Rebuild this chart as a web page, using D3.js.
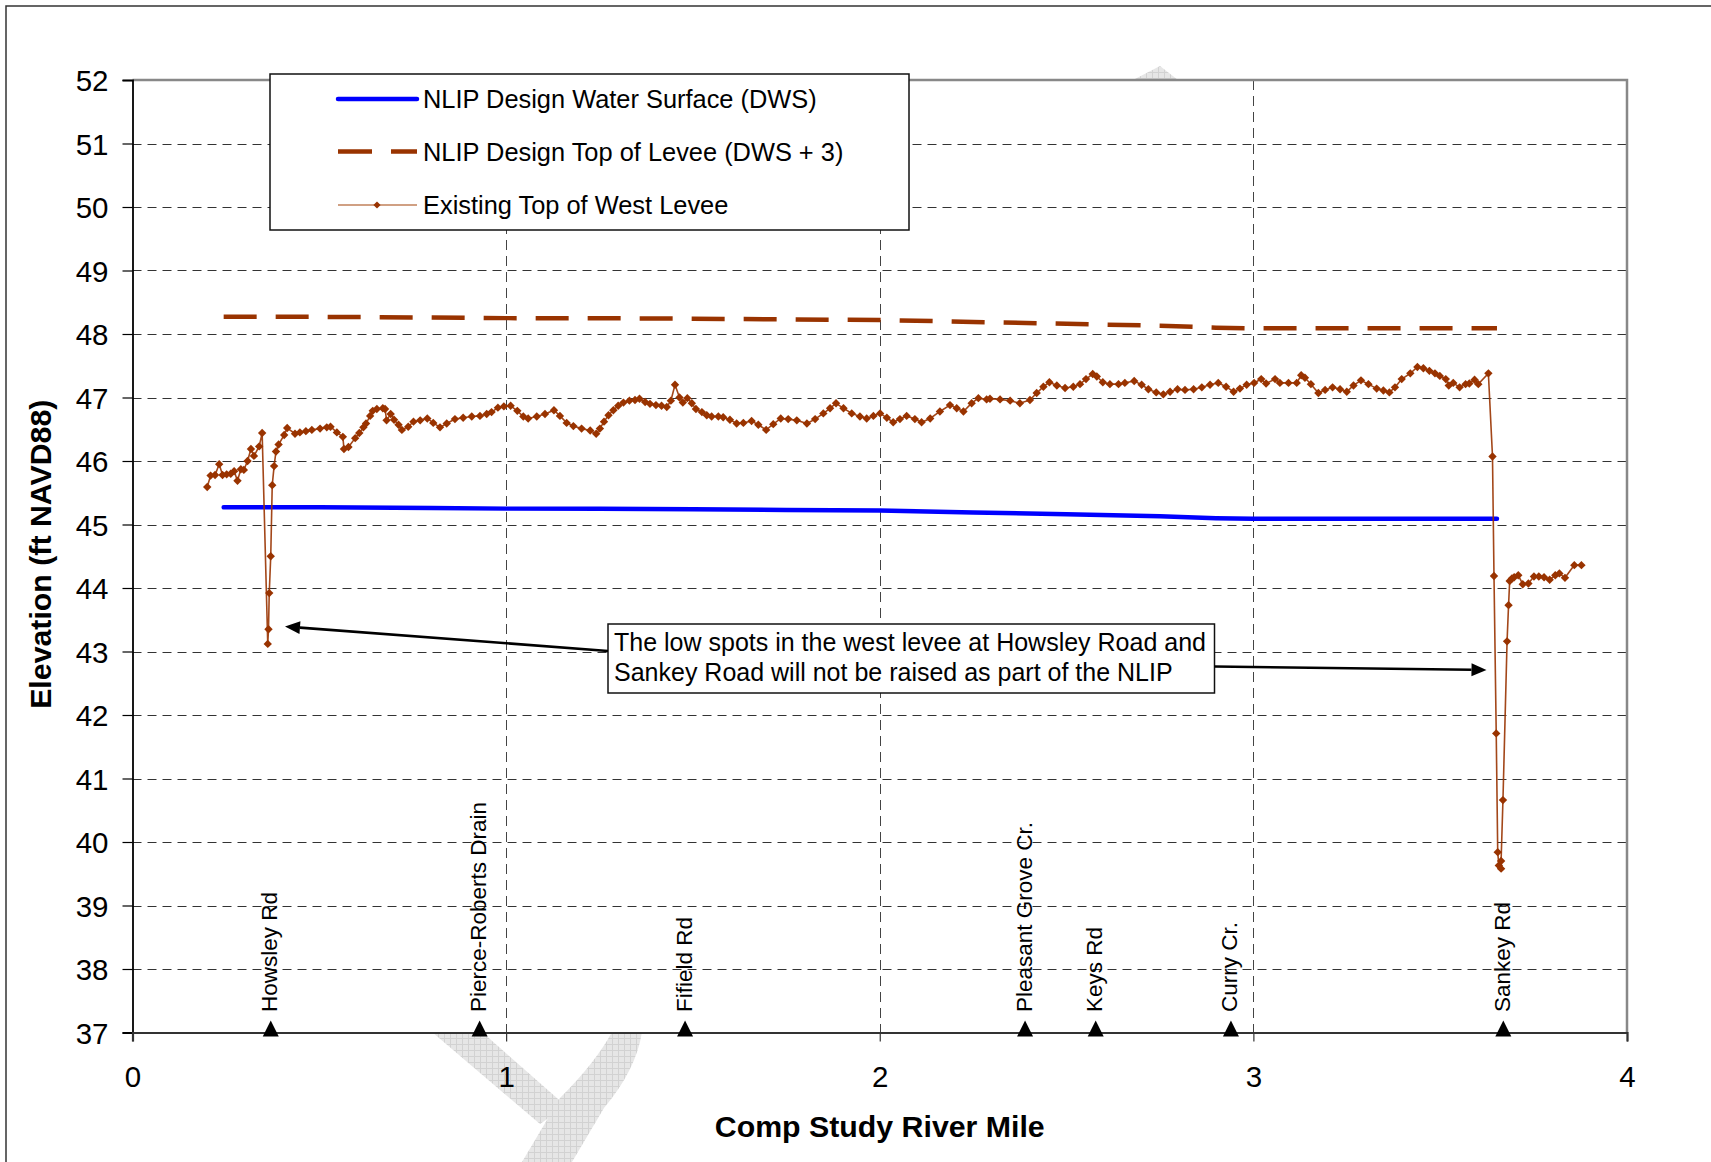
<!DOCTYPE html>
<html>
<head>
<meta charset="utf-8">
<script src="https://cdn.jsdelivr.net/npm/d3@7"></script>
<style>
  html, body { margin: 0; padding: 0; background: #ffffff; }
  svg { display: block; }
  text { font-family: "Liberation Sans", Arial, sans-serif; fill: #000; }
</style>
</head>
<body>
<svg id="chart" width="1711" height="1162"></svg>
<script>
// ---------------- DATA ----------------
const yTickValues = [37, 38, 39, 40, 41, 42, 43, 44, 45, 46, 47, 48, 49, 50, 51, 52];
const xTickValues = [0, 1, 2, 3, 4];

const designMiles = [0.244, 0.5, 0.8, 1.0, 1.25, 1.5, 1.75, 2.0, 2.25, 2.5, 2.75, 2.9, 3.0, 3.25, 3.5, 3.652];
const dwsValues   = [45.27, 45.27, 45.26, 45.25, 45.25, 45.24, 45.23, 45.22, 45.19, 45.16, 45.13, 45.10, 45.09, 45.09, 45.09, 45.09];
const topOfLeveeValues = [48.27, 48.27, 48.26, 48.25, 48.25, 48.24, 48.23, 48.22, 48.19, 48.16, 48.13, 48.10, 48.09, 48.09, 48.09, 48.09];

const existingMiles = [
  0.200, 0.209, 0.221, 0.232, 0.241, 0.252, 0.263, 0.272, 0.281, 0.290, 0.298, 0.308, 0.317, 0.325, 0.339, 0.347,
  0.362, 0.364, 0.366, 0.370, 0.374, 0.379, 0.384, 0.391, 0.406, 0.414, 0.435, 0.448, 0.464, 0.480, 0.502, 0.520,
  0.530, 0.547, 0.563, 0.566, 0.578, 0.596, 0.607, 0.618, 0.625, 0.636, 0.643, 0.654, 0.670, 0.676, 0.680, 0.691,
  0.700, 0.712, 0.721, 0.738, 0.752, 0.770, 0.789, 0.805, 0.823, 0.841, 0.863, 0.885, 0.908, 0.930, 0.948, 0.961,
  0.978, 0.994, 1.012, 1.030, 1.046, 1.059, 1.082, 1.104, 1.128, 1.144, 1.162, 1.180, 1.202, 1.225, 1.241, 1.251,
  1.262, 1.274, 1.287, 1.300, 1.314, 1.330, 1.345, 1.357, 1.372, 1.385, 1.401, 1.416, 1.430, 1.441, 1.452, 1.464,
  1.473, 1.485, 1.497, 1.508, 1.524, 1.537, 1.550, 1.568, 1.581, 1.599, 1.617, 1.635, 1.657, 1.675, 1.696, 1.715,
  1.735, 1.755, 1.778, 1.805, 1.827, 1.849, 1.867, 1.883, 1.903, 1.925, 1.947, 1.965, 1.983, 2.001, 2.019, 2.036,
  2.054, 2.072, 2.094, 2.112, 2.135, 2.161, 2.188, 2.206, 2.224, 2.246, 2.264, 2.286, 2.295, 2.322, 2.349, 2.375,
  2.402, 2.420, 2.438, 2.454, 2.474, 2.496, 2.518, 2.536, 2.552, 2.570, 2.581, 2.597, 2.616, 2.639, 2.656, 2.681,
  2.701, 2.719, 2.740, 2.759, 2.777, 2.797, 2.817, 2.840, 2.862, 2.884, 2.906, 2.927, 2.947, 2.964, 2.982, 3.002,
  3.021, 3.034, 3.058, 3.071, 3.094, 3.116, 3.128, 3.138, 3.154, 3.174, 3.192, 3.212, 3.232, 3.250, 3.268, 3.288,
  3.308, 3.330, 3.348, 3.364, 3.379, 3.397, 3.420, 3.439, 3.455, 3.471, 3.486, 3.499, 3.515, 3.523, 3.535, 3.552,
  3.568, 3.578, 3.592, 3.602, 3.629, 3.640, 3.644, 3.650, 3.654, 3.657, 3.663, 3.663, 3.668, 3.679, 3.683, 3.686,
  3.692, 3.698, 3.709, 3.721, 3.736, 3.751, 3.764, 3.778, 3.793, 3.808, 3.819, 3.834, 3.859, 3.878
];
const existingElev = [
  45.59, 45.77, 45.78, 45.95, 45.78, 45.79, 45.80, 45.84, 45.69, 45.87, 45.86, 46.00, 46.19, 46.08, 46.23, 46.44,
  43.12, 43.35, 43.92, 44.50, 45.62, 45.92, 46.15, 46.26, 46.41, 46.52, 46.43, 46.45, 46.47, 46.49, 46.51, 46.53,
  46.54, 46.45, 46.38, 46.19, 46.22, 46.36, 46.44, 46.53, 46.59, 46.71, 46.79, 46.82, 46.83, 46.82, 46.64, 46.74,
  46.65, 46.57, 46.49, 46.54, 46.62, 46.64, 46.67, 46.60, 46.53, 46.59, 46.66, 46.68, 46.70, 46.71, 46.74, 46.77,
  46.84, 46.86, 46.87, 46.79, 46.70, 46.67, 46.70, 46.74, 46.80, 46.71, 46.60, 46.55, 46.51, 46.48, 46.43, 46.51,
  46.62, 46.72, 46.80, 46.87, 46.92, 46.95, 46.96, 46.98, 46.93, 46.90, 46.88, 46.87, 46.85, 46.95, 47.20, 47.00,
  46.92, 46.99, 46.91, 46.82, 46.77, 46.72, 46.70, 46.70, 46.69, 46.65, 46.59, 46.60, 46.63, 46.57, 46.49, 46.58,
  46.67, 46.66, 46.64, 46.59, 46.66, 46.75, 46.83, 46.91, 46.83, 46.75, 46.70, 46.67, 46.71, 46.75, 46.68, 46.61,
  46.66, 46.71, 46.66, 46.61, 46.67, 46.78, 46.88, 46.83, 46.78, 46.91, 46.99, 46.97, 46.98, 46.97, 46.95, 46.91,
  46.96, 47.07, 47.17, 47.24, 47.19, 47.15, 47.17, 47.21, 47.29, 47.37, 47.33, 47.24, 47.21, 47.21, 47.23, 47.26,
  47.20, 47.13, 47.08, 47.05, 47.09, 47.13, 47.12, 47.13, 47.16, 47.20, 47.23, 47.17, 47.09, 47.14, 47.20, 47.23,
  47.29, 47.22, 47.29, 47.23, 47.23, 47.23, 47.35, 47.31, 47.21, 47.07, 47.12, 47.16, 47.13, 47.09, 47.19, 47.27,
  47.21, 47.14, 47.11, 47.08, 47.16, 47.29, 47.38, 47.48, 47.46, 47.42, 47.38, 47.34, 47.29, 47.19, 47.23, 47.16,
  47.21, 47.22, 47.28, 47.21, 47.38, 46.07, 44.19, 41.71, 39.84, 39.63, 39.58, 39.70, 40.66, 43.16, 43.73, 44.11,
  44.15, 44.17, 44.20, 44.06, 44.07, 44.18, 44.18, 44.17, 44.13, 44.20, 44.23, 44.16, 44.36, 44.36
];

const landmarkNames = ["Howsley Rd", "Pierce-Roberts Drain", "Fifield Rd", "Pleasant Grove Cr.", "Keys Rd", "Curry Cr.", "Sankey Rd"];
const landmarkMiles = [0.370, 0.929, 1.479, 2.389, 2.578, 2.940, 3.669];
const landmarkBase = 37;

const legendLabels = ["NLIP Design Water Surface (DWS)", "NLIP Design Top of Levee (DWS + 3)", "Existing Top of West Levee"];
const noteLines = ["The low spots in the west levee at Howsley Road and", "Sankey Road will not be raised as part of the NLIP"];
const xTitle = "Comp Study River Mile";
const yTitle = "Elevation (ft NAVD88)";

// ---------------- LAYOUT ----------------
const svg = d3.select("#chart");
const plot = { left: 132.5, right: 1627, top: 80, bottom: 1032.5 };
const x = d3.scaleLinear().domain([0, 4]).range([plot.left, plot.right]);
const y = d3.scaleLinear().domain([37, 52]).range([plot.bottom, plot.top]);
const BROWN = "#993300";
const FONT = '"Liberation Sans", Arial, sans-serif';

svg.append("rect").attr("width", 1711).attr("height", 1162).attr("fill", "#fff");

// watermark (decorative, partly hidden behind plot area)
const defs = svg.append("defs");
const pat = defs.append("pattern").attr("id", "wm").attr("patternUnits", "userSpaceOnUse")
  .attr("width", 6).attr("height", 6);
pat.append("rect").attr("width", 6).attr("height", 6).attr("fill", "#e6e6e6");
pat.append("path").attr("d", "M0,0.5H6M0.5,0V6").attr("stroke", "#d2d2d2").attr("stroke-width", 1);
const wm = svg.append("g").attr("fill", "url(#wm)");
wm.append("path").attr("d", "M432,1032 L482,1032 L566,1106 L540,1124 Z");
wm.append("path").attr("d", "M612,1032 L642,1032 Q636,1070 604,1108 L572,1162 L522,1162 L560,1098 Q596,1062 612,1032 Z");
wm.append("path").attr("d", "M1133,80 L1160,66 L1178,80 Z");

// outer border
svg.append("rect").attr("x", 6).attr("y", 6).attr("width", 1800).attr("height", 1400)
  .attr("fill", "none").attr("stroke", "#333").attr("stroke-width", 1.5);

// plot area
svg.append("rect").attr("x", plot.left).attr("y", plot.top)
  .attr("width", plot.right - plot.left).attr("height", plot.bottom - plot.top).attr("fill", "#fff");

// gridlines
const grid = svg.append("g");
grid.selectAll("line.h").data(yTickValues.filter(v => v > 37 && v < 52)).join("line")
  .attr("x1", plot.left).attr("x2", plot.right)
  .attr("y1", d => Math.round(y(d)) + 0.5).attr("y2", d => Math.round(y(d)) + 0.5)
  .attr("stroke", "#333").attr("stroke-width", 1).attr("stroke-dasharray", "9,6");
grid.selectAll("line.v").data(xTickValues.filter(v => v > 0 && v < 4)).join("line")
  .attr("y1", plot.top).attr("y2", plot.bottom)
  .attr("x1", d => Math.round(x(d)) + 0.5).attr("x2", d => Math.round(x(d)) + 0.5)
  .attr("stroke", "#444").attr("stroke-width", 1).attr("stroke-dasharray", "10,6");

// plot border (top, right gray)
svg.append("path").attr("d", `M${plot.left},${plot.top}H${plot.right}V${plot.bottom}`)
  .attr("fill", "none").attr("stroke", "#888").attr("stroke-width", 2.5);

// axes
const yAxis = d3.axisLeft(y).tickValues(yTickValues).tickSize(10).tickPadding(14).tickFormat(d3.format("d"));
const gy = svg.append("g").attr("transform", `translate(${plot.left},0)`).call(yAxis);
gy.select(".domain").attr("stroke", "#000").attr("stroke-width", 1.8);
gy.selectAll(".tick line").attr("stroke", "#000").attr("stroke-width", 1.2);
gy.selectAll(".tick text").attr("font-size", 29.5).attr("font-family", FONT).attr("dy", "0.36em");

const xAxis = d3.axisBottom(x).tickValues(xTickValues).tickSize(9).tickPadding(25).tickFormat(d3.format("d"));
const gx = svg.append("g").attr("transform", `translate(0,${plot.bottom})`).call(xAxis);
gx.select(".domain").attr("stroke", "#333").attr("stroke-width", 2.2);
gx.selectAll(".tick line").attr("stroke", "#333").attr("stroke-width", 1.2);
gx.selectAll(".tick text").attr("font-size", 29.5).attr("font-family", FONT);

// axis titles
svg.append("text").attr("x", (plot.left + plot.right) / 2).attr("y", 1137)
  .attr("text-anchor", "middle").attr("font-weight", "bold").attr("font-size", 30.3).text(xTitle);
svg.append("text").attr("transform", `translate(51,${(plot.top + plot.bottom) / 2 - 2}) rotate(-90)`)
  .attr("text-anchor", "middle").attr("font-weight", "bold").attr("font-size", 30.3).text(yTitle);

// series
const dwsData = designMiles.map((m, i) => ({ m, v: dwsValues[i] }));
const tolData = designMiles.map((m, i) => ({ m, v: topOfLeveeValues[i] }));
const exData = existingMiles.map((m, i) => ({ m, v: existingElev[i] }));
const line = d3.line().x(d => x(d.m)).y(d => y(d.v));

svg.append("path").datum(tolData).attr("d", line).attr("fill", "none")
  .attr("stroke", BROWN).attr("stroke-width", 4.5).attr("stroke-dasharray", "33,19");
svg.append("path").datum(dwsData).attr("d", line).attr("fill", "none")
  .attr("stroke", "#0000ff").attr("stroke-width", 4.5).attr("stroke-linecap", "round");
svg.append("path").datum(exData).attr("d", line).attr("fill", "none")
  .attr("stroke", BROWN).attr("stroke-width", 1.6).attr("stroke-opacity", 0.9);
const diamond = r => `M0,${-r}L${r},0L0,${r}L${-r},0Z`;
svg.append("g").selectAll("path").data(exData).join("path")
  .attr("transform", d => `translate(${x(d.m)},${y(d.v)})`)
  .attr("d", diamond(4.2)).attr("fill", BROWN);

// landmarks
const lm = svg.append("g");
const lmData = landmarkNames.map((n, i) => ({ n, m: landmarkMiles[i] }));
lm.selectAll("path").data(lmData).join("path")
  .attr("transform", d => `translate(${x(d.m)},${y(landmarkBase) - 2})`)
  .attr("d", "M0,-10L8,6L-8,6Z").attr("fill", "#000");
lm.selectAll("text").data(lmData).join("text")
  .attr("transform", d => `translate(${x(d.m) + 6.5},1012) rotate(-90)`)
  .attr("font-size", 22.5).attr("text-anchor", "start").text(d => d.n);

// legend
const lg = svg.append("g");
lg.append("rect").attr("x", 270).attr("y", 74).attr("width", 639).attr("height", 156)
  .attr("fill", "#fff").attr("stroke", "#111").attr("stroke-width", 1.5);
const rowY = [99, 151.5, 205];
lg.append("line").attr("x1", 338).attr("x2", 417).attr("y1", rowY[0]).attr("y2", rowY[0])
  .attr("stroke", "#0000ff").attr("stroke-width", 4.5).attr("stroke-linecap", "round");
lg.append("line").attr("x1", 338).attr("x2", 417).attr("y1", rowY[1]).attr("y2", rowY[1])
  .attr("stroke", BROWN).attr("stroke-width", 4.5).attr("stroke-dasharray", "34,19");
lg.append("line").attr("x1", 338).attr("x2", 417).attr("y1", rowY[2]).attr("y2", rowY[2])
  .attr("stroke", "#c0805a").attr("stroke-width", 1.3);
lg.append("path").attr("transform", `translate(377,${rowY[2]})`).attr("d", diamond(3.6)).attr("fill", BROWN);
lg.selectAll("text").data(legendLabels).join("text")
  .attr("x", 423).attr("y", (d, i) => rowY[i] + 9).attr("font-size", 25.4).text(d => d);

// annotation
const an = svg.append("g");
an.append("rect").attr("x", 608).attr("y", 624).attr("width", 606.5).attr("height", 69)
  .attr("fill", "#fff").attr("stroke", "#111").attr("stroke-width", 1.5);
an.selectAll("text").data(noteLines).join("text")
  .attr("x", 614).attr("y", (d, i) => 651 + i * 30).attr("font-size", 25).text(d => d);

function arrow(x1, y1, x2, y2) {
  const a = Math.atan2(y2 - y1, x2 - x1);
  const L = 15, Wd = 6.5;
  const bx = x2 - L * Math.cos(a), by = y2 - L * Math.sin(a);
  an.append("line").attr("x1", x1).attr("y1", y1).attr("x2", bx).attr("y2", by)
    .attr("stroke", "#000").attr("stroke-width", 2.6);
  an.append("path").attr("d",
    `M${x2},${y2}L${bx + Wd * Math.sin(a)},${by - Wd * Math.cos(a)}L${bx - Wd * Math.sin(a)},${by + Wd * Math.cos(a)}Z`)
    .attr("fill", "#000");
}
arrow(608, 651, 285, 626.5);
arrow(1214.5, 666.5, 1486.5, 670);
</script>
</body>
</html>
